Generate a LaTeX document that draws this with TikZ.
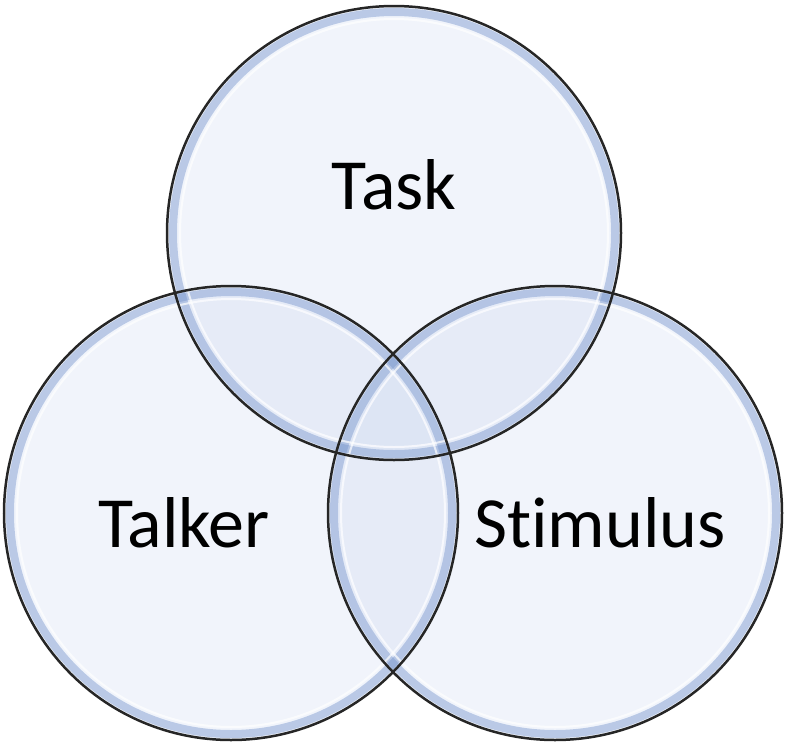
\documentclass[tikz,border=0pt]{standalone}
\usepackage{fontspec}
\setmainfont[Ligatures=NoCommon]{Carlito}
\definecolor{ringblue}{RGB}{120,150,205}
\definecolor{fillblue}{RGB}{190,205,235}
\tikzset{
  setcircle/.style={circle, minimum size=454pt, inner sep=0pt},
  setlabel/.style={font=\fontsize{72pt}{80pt}\selectfont}
}

\begin{document}
\begin{tikzpicture}[x=1pt, y=-1pt]
    \useasboundingbox (0,0) rectangle (787,742);
    \coordinate (task) at (394,233);
    \coordinate (talker) at (231,513);
    \coordinate (stimulus) at (555,513);
    \foreach \c in {task, talker, stimulus}
    \fill[fillblue, fill opacity=0.22] (\c) circle [radius=227];
    \foreach \c in {task, talker, stimulus}
    \draw[ringblue, line width=8pt, opacity=0.45] (\c) circle [radius=221];
    \foreach \c in {task, talker, stimulus}
    \draw[white, line width=2pt, opacity=0.7] (\c) circle [radius=214];
    \foreach \c in {task, talker, stimulus}
    \draw[black!85, line width=2.5pt] (\c) circle [radius=227];
    \node[setlabel] (tasklabel) at (394,185) {Task};
    \node[setlabel] (talkerlabel) at (184,523) {Talker};
    \node[setlabel] (stimuluslabel) at (600,523) {Stimulus};
\end{tikzpicture}
\end{document}
